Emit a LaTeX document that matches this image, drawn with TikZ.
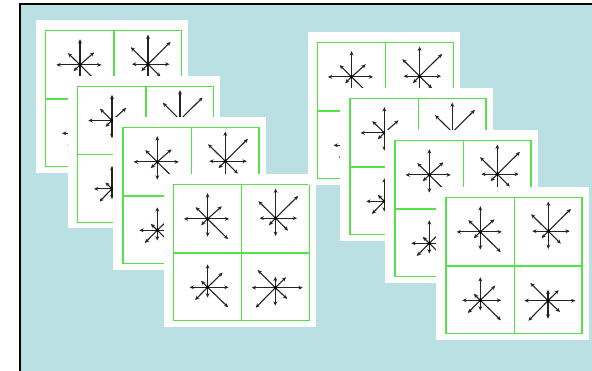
\documentclass[tikz,border=0pt]{standalone}
\usetikzlibrary{arrows.meta}
\definecolor{bgblue}{RGB}{186,224,227}
\definecolor{gridgreen}{RGB}{84,226,72}
\definecolor{raygray}{RGB}{35,35,35}
\tikzset{
  ray/.style={draw=raygray, line width=1.1pt, -{Stealth[length=4.3pt,width=3.8pt]}},
  gridline/.style={draw=gridgreen, line width=1.4pt},
  cardface/.style={fill=white, draw=none},
}
\newcommand{\rstar}[3]{%
  \foreach \dx/\dy in {#3} {\draw[ray] (#1,#2) -- ++(\dx,\dy);}
  \fill[black] (#1,#2) circle (1.8);
}
\newcommand{\cardat}[2]{%
  \begin{scope}[shift={(#1,#2)}]
    \fill[cardface] (-9.7,-10.5) rectangle (142.5,142);
    \draw[gridline] (0,0) rectangle (136,136);
    \draw[gridline] (68.3,0) -- (68.3,136) (0,68.3) -- (136,68.3);
    \rstar{34.3}{34.2}{0/-25.7, 0/17.7, -23.7/0, 21.5/0, 14.2/-12.6, -12/-11.8, -6.5/6.3, 20.5/20.3}
    \rstar{102.3}{33.5}{0/-29.6, 0/17.7, -16/0, 21.5/0, 22.6/-22.3, -17.2/-17, -6.7/7, 12.5/12.4}
    \rstar{34.3}{102.6}{0/-23, 0/10.2, -18/0, 21/0, 15/-14.6, -6.5/-6.5, -12.5/12.7, 20.6/20}
    \rstar{102}{103}{0/-11, 0/18, -23.6/0, 27.4/0, 10.7/-10.5, -17.6/-17.7, -19.6/20, 12/11.3}
  \end{scope}
}
\begin{document}
\begin{tikzpicture}[x=1pt,y=-1pt]
  \useasboundingbox (0,0) rectangle (592,371);
  \clip (0,0) rectangle (592,371);
  \fill[white] (0,0) rectangle (592,371);
  \fill[bgblue] (20,4) rectangle (600,380);
  \draw[black, line width=2pt] (20,380) -- (20,4) -- (600,4);
  % left stack
  \cardat{45.7}{30.7}
  \cardat{77.7}{86.3}
  \cardat{123}{127.7}
  \cardat{173.3}{184.7}
  % right stack
  \cardat{317.3}{42.7}
  \cardat{350}{98.7}
  \cardat{395}{140.7}
  \cardat{446}{197.7}
\end{tikzpicture}
\end{document}
